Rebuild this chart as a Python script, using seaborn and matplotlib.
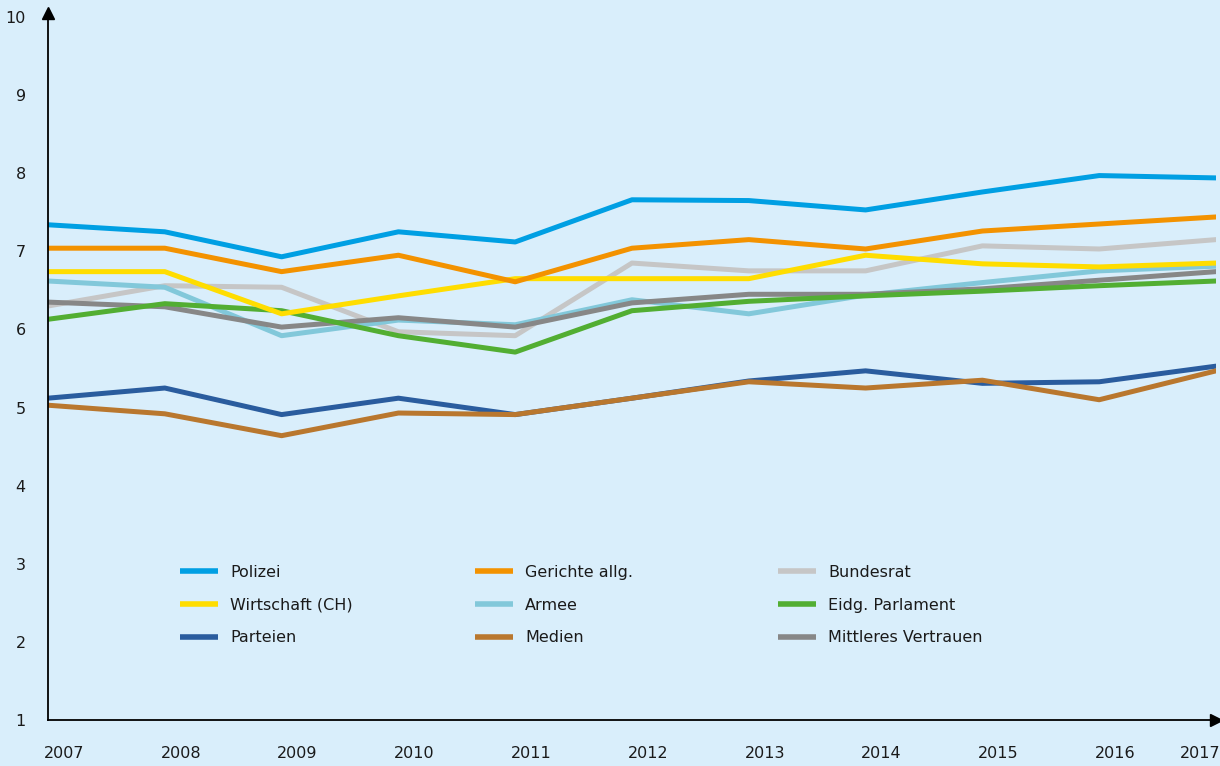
import pandas as pd
import numpy as np
import matplotlib
matplotlib.use('Agg')
import matplotlib.pyplot as plt
import matplotlib.transforms as mtransforms
import seaborn as sns

years = [2007, 2008, 2009, 2010, 2011, 2012, 2013, 2014, 2015, 2016, 2017]

polizei = [7.34, 7.25, 6.93, 7.25, 7.12, 7.66, 7.65, 7.53, 7.76, 7.97, 7.94]
gerichte = [7.04, 7.04, 6.74, 6.95, 6.61, 7.04, 7.15, 7.03, 7.26, 7.35, 7.44]
bundesrat = [6.30, 6.56, 6.54, 5.97, 5.92, 6.85, 6.75, 6.75, 7.07, 7.03, 7.15]
wirtschaft = [6.74, 6.74, 6.20, 6.43, 6.65, 6.65, 6.65, 6.95, 6.84, 6.80, 6.85]
armee = [6.62, 6.54, 5.92, 6.12, 6.06, 6.38, 6.20, 6.44, 6.60, 6.75, 6.81]
parlament = [6.13, 6.33, 6.24, 5.92, 5.71, 6.24, 6.36, 6.43, 6.49, 6.56, 6.62]
parteien = [5.12, 5.25, 4.91, 5.12, 4.91, 5.12, 5.34, 5.47, 5.31, 5.33, 5.53]
medien = [5.03, 4.92, 4.64, 4.93, 4.91, 5.12, 5.33, 5.25, 5.35, 5.10, 5.47]
mittel = [6.35, 6.29, 6.03, 6.15, 6.03, 6.34, 6.45, 6.45, 6.52, 6.63, 6.74]

series = {
    'Polizei': polizei,
    'Gerichte allg.': gerichte,
    'Bundesrat': bundesrat,
    'Wirtschaft (CH)': wirtschaft,
    'Armee': armee,
    'Eidg. Parlament': parlament,
    'Parteien': parteien,
    'Medien': medien,
    'Mittleres Vertrauen': mittel,
}
colors = {
    'Polizei': '#009FE3',
    'Gerichte allg.': '#F39200',
    'Bundesrat': '#C6C6C6',
    'Wirtschaft (CH)': '#FFDD00',
    'Armee': '#82C8DA',
    'Eidg. Parlament': '#52AE32',
    'Parteien': '#2A5C9E',
    'Medien': '#B9772E',
    'Mittleres Vertrauen': '#878787',
}
# drawing order (back to front)
draw_order = ['Bundesrat', 'Armee', 'Mittleres Vertrauen', 'Eidg. Parlament',
              'Wirtschaft (CH)', 'Gerichte allg.', 'Polizei', 'Parteien', 'Medien']

df = pd.DataFrame([(name, y, v) for name, vals in series.items() for y, v in zip(years, vals)],
                  columns=['Institution', 'Jahr', 'Wert'])

bg = '#D9EEFB'
sns.set_style('white')
plt.rcParams['font.family'] = ['DejaVu Sans']

fig = plt.figure(figsize=(12.2, 7.66), dpi=100, facecolor=bg)
ax = fig.add_axes([48 / 1220, 46 / 766, (1216 - 48) / 1220, (720 - 17) / 766])
ax.set_facecolor(bg)

sns.lineplot(data=df, x='Jahr', y='Wert', hue='Institution', hue_order=draw_order,
             palette=colors, linewidth=3.6, ax=ax, legend=False)

ax.set_xlim(2007, 2017)
ax.set_ylim(1, 10)
ax.set_xlabel('')
ax.set_ylabel('')
ax.set_xticks(years)
ax.set_yticks(range(1, 11))
ax.tick_params(length=0, labelsize=11.5, colors='#1a1a1a')
ax.tick_params(axis='y', pad=16)
ax.tick_params(axis='x', pad=19)
for s in ['top', 'right']:
    ax.spines[s].set_visible(False)
for s in ['left', 'bottom']:
    ax.spines[s].set_color('black')
    ax.spines[s].set_linewidth(1.3)

# shift year labels a little to the right like the original
offset = mtransforms.ScaledTranslation(16 / 100, 0, fig.dpi_scale_trans)
xlabels = ax.get_xticklabels()
for lab in xlabels[:-1]:
    lab.set_transform(lab.get_transform() + offset)
xlabels[-1].set_horizontalalignment('right')
xlabels[-1].set_transform(xlabels[-1].get_transform() + mtransforms.ScaledTranslation(4 / 100, 0, fig.dpi_scale_trans))

# axis arrows
ax.plot([0], [1.005], marker='^', markersize=9, color='black', transform=ax.transAxes, clip_on=False)
ax.plot([1.0], [0], marker='>', markersize=9, color='black', transform=ax.transAxes, clip_on=False)

# legend: three single-column blocks laid side by side
legend_cols = [['Polizei', 'Wirtschaft (CH)', 'Parteien'],
               ['Gerichte allg.', 'Armee', 'Medien'],
               ['Bundesrat', 'Eidg. Parlament', 'Mittleres Vertrauen']]
col_x = [180, 475, 778]
for names, px in zip(legend_cols, col_x):
    handles = [plt.Line2D([], [], color=colors[n], linewidth=4, solid_capstyle='butt') for n in names]
    leg = fig.legend(handles, names, ncol=1, frameon=False, fontsize=11.5,
                     loc='upper left', bbox_to_anchor=(px / 1220, 1 - 565 / 766),
                     handlelength=2.4, handletextpad=0.75, labelspacing=1.1,
                     borderpad=0, borderaxespad=0)
    for t in leg.get_texts():
        t.set_color('#1a1a1a')

fig.savefig('out.png', dpi=100, facecolor=bg)
